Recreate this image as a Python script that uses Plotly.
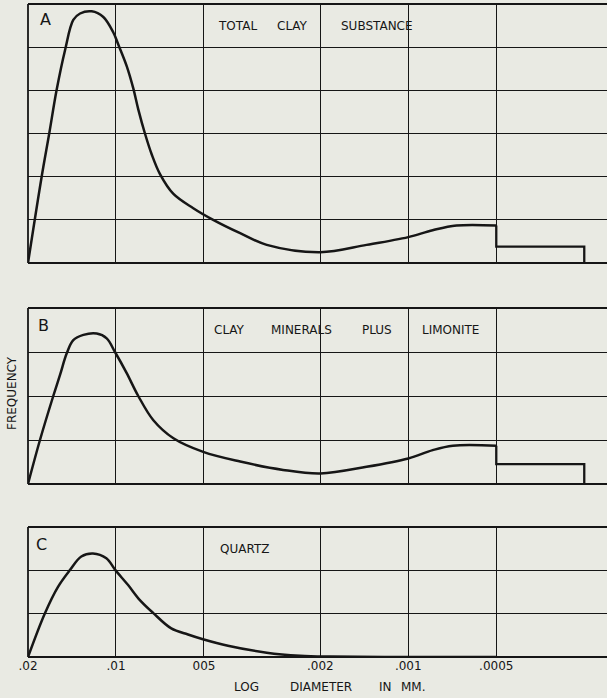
import math
import plotly.graph_objects as go

# ---------------- data ----------------
# x: particle diameter in mm (log scale, decreasing to the right)
# y: frequency in grid divisions
a_diam = [0.02, 0.01796, 0.01692, 0.01597, 0.01494, 0.014, 0.01327, 0.01211, 0.01105,
          0.01021, 0.00982, 0.00919, 0.00873, 0.00839, 0.00796, 0.00755, 0.00707,
          0.00636, 0.00544, 0.00465, 0.00376, 0.00305, 0.002, 0.001389, 0.001,
          0.000825, 0.000684, 0.0005]
a_freq = [0.0, 2.0, 3.0, 4.0, 4.93, 5.63, 5.78, 5.83, 5.70,
          5.34, 5.06, 4.56, 4.05, 3.56, 3.0, 2.52, 2.06,
          1.6, 1.27, 1.0, 0.69, 0.42, 0.25, 0.42, 0.6,
          0.76, 0.87, 0.87]
a_step_diam = [0.0005, 0.0005, 0.00025, 0.00025]
a_step_freq = [0.87, 0.38, 0.38, 0.0]

b_diam = [0.02, 0.0182, 0.01639, 0.01554, 0.01474, 0.014, 0.01293, 0.01164, 0.01076,
          0.01008, 0.00919, 0.00839, 0.00745, 0.00636, 0.00503, 0.00376, 0.00268,
          0.002, 0.001389, 0.001, 0.000825, 0.000704, 0.0005]
b_freq = [0.0, 1.0, 2.0, 2.48, 2.97, 3.27, 3.39, 3.42, 3.31,
          3.0, 2.52, 2.0, 1.45, 1.04, 0.73, 0.51, 0.32,
          0.24, 0.39, 0.58, 0.77, 0.87, 0.87]
b_step_diam = [0.0005, 0.0005, 0.00025, 0.00025]
b_step_freq = [0.87, 0.45, 0.45, 0.0]

c_diam = [0.02, 0.01753, 0.01579, 0.0144, 0.01314, 0.01199, 0.01079, 0.01006,
          0.00909, 0.0083, 0.00747, 0.00647, 0.00567, 0.00504, 0.00414, 0.00305,
          0.002346, 0.00185, 0.001, 0.0005]
c_freq = [0.0, 1.0, 1.62, 2.0, 2.32, 2.39, 2.28, 2.01,
          1.66, 1.32, 1.02, 0.66, 0.52, 0.41, 0.26, 0.1,
          0.03, 0.01, 0.0, 0.0]

tick_vals = [0.02, 0.01, 0.005, 0.002, 0.001, 0.0005]
tick_text = [".02", ".01", "005", ".002", ".001", ".0005"]

panel_letters = ["A", "B", "C"]
panel_titles = ["TOTAL CLAY SUBSTANCE", "CLAY MINERALS PLUS LIMONITE", "QUARTZ"]
panel_ymax = [6, 4, 3]
x_title = "LOG DIAMETER IN MM."
y_title = "FREQUENCY"

# ---------------- figure ----------------
W, H = 607, 698
ML, MR, MT, MB = 28, 0, 4, 41
PH = H - MT - MB
BG = "#e9eae3"
INK = "#161616"
FONT = "DejaVu Sans"

def py2paper(py):
    return 1 - (py - MT) / PH

def px2paper(px):
    return (px - ML) / (W - ML - MR)

panel_px = [(4, 263), (308, 484), (527, 657)]
domains = [[py2paper(b), py2paper(t)] for t, b in panel_px]

fig = go.Figure()

series = [(a_diam, a_freq, a_step_diam, a_step_freq),
          (b_diam, b_freq, b_step_diam, b_step_freq),
          (c_diam, c_freq, None, None)]

for i, (dx, fy, sx, sy) in enumerate(series):
    xa = "x" if i == 0 else f"x{i+1}"
    ya = "y" if i == 0 else f"y{i+1}"
    fig.add_trace(go.Scatter(x=dx, y=fy, mode="lines", xaxis=xa, yaxis=ya,
                             line=dict(color=INK, width=2.5, shape="spline", smoothing=1.0),
                             hoverinfo="skip", showlegend=False))
    if sx is not None:
        fig.add_trace(go.Scatter(x=sx, y=sy, mode="lines", xaxis=xa, yaxis=ya,
                                 line=dict(color=INK, width=2.3),
                                 hoverinfo="skip", showlegend=False))

xr = [math.log10(0.02), math.log10(0.000209)]
layout = dict(width=W, height=H, margin=dict(l=ML, r=MR, t=MT, b=MB),
              paper_bgcolor=BG, plot_bgcolor=BG, showlegend=False,
              font=dict(family=FONT, color=INK))

for i in range(3):
    xk = "xaxis" if i == 0 else f"xaxis{i+1}"
    yk = "yaxis" if i == 0 else f"yaxis{i+1}"
    ya = "y" if i == 0 else f"y{i+1}"
    xa = "x" if i == 0 else f"x{i+1}"
    layout[xk] = dict(type="log", range=xr, anchor=ya, domain=[0, 1],
                      tickvals=tick_vals, ticktext=tick_text,
                      showticklabels=(i == 2), ticks="",
                      tickfont=dict(size=12, family=FONT, color=INK),
                      showgrid=True, gridcolor=INK, gridwidth=1.4,
                      zeroline=False, showline=False, fixedrange=True)
    if i > 0:
        layout[xk]["matches"] = "x"
    layout[yk] = dict(range=[0, panel_ymax[i]], domain=domains[i], anchor=xa,
                      dtick=1, showticklabels=False, ticks="",
                      showgrid=True, gridcolor=INK, gridwidth=1.4,
                      zeroline=False, showline=False, fixedrange=True)

fig.update_layout(**layout)

shapes = []
annotations = []
for i in range(3):
    xa = "x" if i == 0 else f"x{i+1}"
    ya = "y" if i == 0 else f"y{i+1}"
    ln = dict(color=INK, width=1.8)
    # frame: left, top, bottom
    shapes.append(dict(type="line", xref=f"{xa} domain", yref=f"{ya} domain",
                       x0=0, x1=0, y0=0, y1=1, line=ln, layer="above"))
    shapes.append(dict(type="line", xref=f"{xa} domain", yref=f"{ya} domain",
                       x0=0, x1=1, y0=1, y1=1, line=ln, layer="above"))
    shapes.append(dict(type="line", xref=f"{xa} domain", yref=f"{ya} domain",
                       x0=0, x1=1, y0=0, y1=0, line=ln, layer="above"))

# panel letters
letter_pos = [(45, 19), (43.5, 325), (41.5, 544)]
for (lx, ly), letter in zip(letter_pos, panel_letters):
    annotations.append(dict(text=letter, xref="paper", yref="paper",
                            x=px2paper(lx), y=py2paper(ly),
                            xanchor="center", yanchor="middle", showarrow=False,
                            font=dict(size=16, family=FONT, color=INK)))

# panel titles, word by word (the original lettering is widely spaced)
title_word_x = [[237.5, 292, 377], [229, 301, 377, 450], [244]]
title_y = [26, 330, 549]
for words_x, ty, title in zip(title_word_x, title_y, panel_titles):
    for wx, word in zip(words_x, title.split(" ")):
        annotations.append(dict(text=word, xref="paper", yref="paper",
                                x=px2paper(wx), y=py2paper(ty),
                                xanchor="center", yanchor="middle", showarrow=False,
                                font=dict(size=12, family=FONT, color=INK)))

# x-axis title, word by word
xt_word_x = [246, 321, 385, 413]
for wx, word in zip(xt_word_x, x_title.split(" ")):
    annotations.append(dict(text=word, xref="paper", yref="paper",
                            x=px2paper(wx), y=py2paper(687),
                            xanchor="center", yanchor="middle", showarrow=False,
                            font=dict(size=12, family=FONT, color=INK)))

annotations.append(dict(text=y_title, xref="paper", yref="paper",
                        x=px2paper(12), y=py2paper(393),
                        xanchor="center", yanchor="middle", showarrow=False,
                        textangle=-90,
                        font=dict(size=12, family=FONT, color=INK)))

fig.update_layout(shapes=shapes, annotations=annotations)
fig.write_html("out.html")
